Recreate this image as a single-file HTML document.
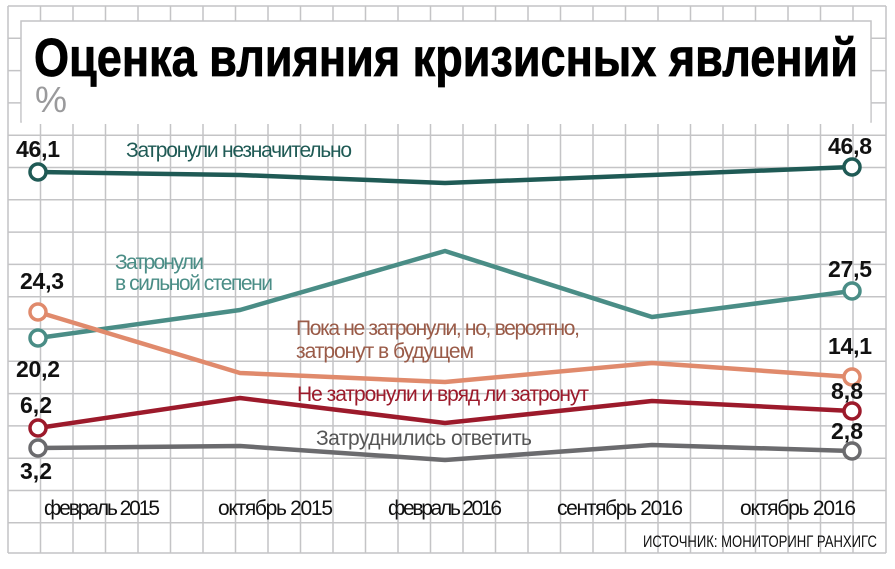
<!DOCTYPE html>
<html><head><meta charset="utf-8"><style>
html,body{margin:0;padding:0;background:#fff;}
svg{display:block;}
text{font-family:"Liberation Sans Narrow","Liberation Sans",sans-serif;}
</style></head><body>
<svg width="895" height="569" viewBox="0 0 895 569" xmlns="http://www.w3.org/2000/svg">
<rect width="895" height="569" fill="#fff"/>
<g stroke="#c4c4c6" stroke-width="1.5" fill="none">
<path d="M8,6V553M40.5,6V553M73,6V553M105.5,6V553M138,6V553M170.5,6V553M203,6V553M235.5,6V553M268,6V553M300.5,6V553M333,6V553M365.5,6V553M398,6V553M430.5,6V553M463,6V553M495.5,6V553M528,6V553M560.5,6V553M593,6V553M625.5,6V553M658,6V553M690.5,6V553M723,6V553M755.5,6V553M788,6V553M820.5,6V553M853,6V553M886,6V553"/>
<path d="M8,6H886M8,38.3H886M8,70.6H886M8,102.9H886M8,135.2H886M8,167.5H886M8,199.8H886M8,232.1H886M8,264.4H886M8,296.7H886M8,329H886M8,361.3H886M8,393.6H886M8,425.9H886M8,458.2H886M8,490.5H886M8,522.8H886M8,553H886"/>
</g>
<rect x="21" y="21" width="850" height="101" fill="#fff" stroke="#c4c4c6" stroke-width="1.5"/>
<rect x="21.8" y="100" width="848.5" height="24" fill="#fff"/>
<text x="34" y="76" font-size="54" font-weight="bold" fill="#000" stroke="#000" stroke-width="0.8" textLength="824" lengthAdjust="spacingAndGlyphs">Оценка влияния кризисных явлений</text>
<text x="35" y="112" font-size="36" fill="#9a9a9c">%</text>
<g fill="none" stroke-width="4.5" stroke-linejoin="round">
<polyline stroke="#1f5a55" points="38,172 240,175 445,183 652,175 852,167"/>
<polyline stroke="#4a8d86" points="38,338 240,310 445,251 652,317 852,291"/>
<polyline stroke="#e08a6c" points="38,312 240,373 445,382 652,363 852,377"/>
<polyline stroke="#9c1a2b" points="38,428 240,398 445,423 652,401 852,411"/>
<polyline stroke="#6b6b6e" points="38,448 240,446 445,460 652,445 852,451"/>
</g>
<g fill="#fff" stroke-width="3.5">
<circle cx="38" cy="172" r="8" stroke="#1f5a55"/><circle cx="852" cy="167" r="8" stroke="#1f5a55"/>
<circle cx="38" cy="338" r="8" stroke="#4a8d86"/><circle cx="852" cy="291" r="8" stroke="#4a8d86"/>
<circle cx="38" cy="312" r="8" stroke="#e08a6c"/><circle cx="852" cy="377" r="8" stroke="#e08a6c"/>
<circle cx="38" cy="428" r="8" stroke="#9c1a2b"/><circle cx="852" cy="411" r="8" stroke="#9c1a2b"/>
<circle cx="38" cy="448" r="8" stroke="#6b6b6e"/><circle cx="852" cy="451" r="8" stroke="#6b6b6e"/>
</g>
<g font-size="23" font-weight="bold" fill="#111" lengthAdjust="spacingAndGlyphs">
<text x="16" y="157" textLength="44">46,1</text>
<text x="828" y="154" textLength="44">46,8</text>
<text x="20" y="289" textLength="44">24,3</text>
<text x="828" y="277" textLength="44">27,5</text>
<text x="16" y="377" textLength="44">20,2</text>
<text x="828" y="354" textLength="44">14,1</text>
<text x="20" y="413" textLength="32">6,2</text>
<text x="831" y="399" textLength="32">8,8</text>
<text x="20" y="479" textLength="32">3,2</text>
<text x="831" y="439" textLength="32">2,8</text>
</g>
<g font-size="21" lengthAdjust="spacingAndGlyphs">
<text x="126" y="157" fill="#1f5a55" textLength="226">Затронули незначительно</text>
<text x="115" y="269" fill="#4a8d86" textLength="89">Затронули</text>
<text x="115" y="290" fill="#4a8d86" textLength="158">в сильной степени</text>
<text x="296" y="335" fill="#9a5b48" textLength="284">Пока не затронули, но, вероятно,</text>
<text x="296" y="358" fill="#9a5b48" textLength="178">затронут в будущем</text>
<text x="297" y="401" fill="#9c1a2b" textLength="292">Не затронули и вряд ли затронут</text>
<text x="316" y="445" fill="#555" textLength="216">Затруднились ответить</text>
</g>
<g font-size="21" fill="#111" lengthAdjust="spacingAndGlyphs">
<text x="44" y="515" textLength="116">февраль 2015</text>
<text x="218" y="515" textLength="115">октябрь 2015</text>
<text x="388" y="515" textLength="114">февраль 2016</text>
<text x="557" y="515" textLength="126">сентябрь 2016</text>
<text x="740" y="515" textLength="116">октябрь 2016</text>
</g>
<text x="643" y="547" font-size="17" fill="#111" textLength="234" lengthAdjust="spacingAndGlyphs">ИСТОЧНИК: МОНИТОРИНГ РАНХИГС</text>
</svg>
</body></html>
